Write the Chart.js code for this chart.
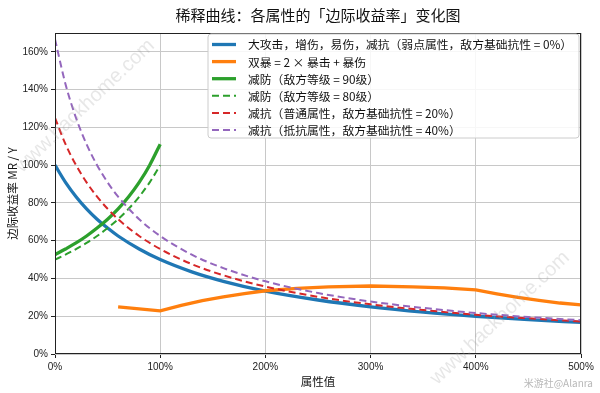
<!DOCTYPE html>
<html>
<head>
<meta charset="utf-8">
<script src="https://cdn.jsdelivr.net/npm/chart.js@4.4.0/dist/chart.umd.min.js"></script>
<style>
  html, body { margin: 0; padding: 0; background: #fff; }
  #wrap { width: 600px; height: 393px; }
</style>
</head>
<body>
<div id="wrap"><canvas id="mrChart" width="600" height="393"></canvas></div>
<script>
// Dữ liệu (đơn vị %)
const decX = [0, 10, 20, 30, 40, 50, 60, 80, 100, 130, 160, 200, 250, 300, 350, 400, 450, 500];
const attackY = [100, 90.9, 83.3, 76.9, 71.4, 66.7, 62.5, 55.6, 50, 43.5, 38.5, 33.3, 28.6, 25, 22.2, 20, 18.2, 16.7];
const resNormalY = [125, 111.1, 100, 90.9, 83.3, 76.9, 71.4, 62.5, 55.6, 47.6, 41.7, 35.7, 30.3, 26.3, 23.3, 20.8, 18.9, 17.2];
const resResistY = [166.7, 142.9, 125, 111.1, 100, 90.9, 83.3, 71.4, 62.5, 52.6, 45.5, 38.5, 32.3, 27.8, 24.4, 21.7, 19.6, 17.9];

const critX = [60, 100, 120, 140, 160, 180, 200, 230, 260, 300, 340, 370, 400, 420, 440, 460, 480, 500];
const critY = [25, 22.8, 25.8, 28.3, 30.3, 32, 33.5, 34.8, 35.6, 36, 35.6, 35, 34, 31.9, 30, 28.4, 27, 26];

const defX = [0, 10, 20, 30, 40, 50, 60, 70, 80, 90, 100];
const def90Y = [52.6, 55.6, 58.8, 62.5, 66.7, 71.4, 76.9, 83.3, 90.9, 100, 111.1];
const def80Y = [50, 52.6, 55.6, 58.8, 62.5, 66.7, 71.4, 76.9, 83.3, 90.9, 100];

const xTicks = [0, 100, 200, 300, 400, 500];
const yTicks = [0, 20, 40, 60, 80, 100, 120, 140, 160];

const labels = [
    '大攻击，增伤，易伤，减抗（弱点属性，敌方基础抗性 = 0%）',
    '双暴 = 2 × 暴击 + 暴伤',
    '减防（敌方等级 = 90级）',
    '减防（敌方等级 = 80级）',
    '减抗（普通属性，敌方基础抗性 = 20%）',
    '减抗（抵抗属性，敌方基础抗性 = 40%）'
];

const CJK = '"Noto Sans CJK SC", sans-serif';
const LAT = '"Liberation Sans", "Noto Sans CJK SC", sans-serif';

function toPoints(xs, ys) {
    return xs.map((x, i) => ({ x: x, y: ys[i] }));
}

function makeSet(idx, xs, ys, color, width, dash, smooth) {
    return {
        label: labels[idx],
        data: toPoints(xs, ys),
        borderColor: color,
        backgroundColor: color,
        borderWidth: width,
        borderDash: dash,
        pointRadius: 0,
        showLine: true,
        fill: false,
        tension: smooth ? 0.4 : 0,
        cubicInterpolationMode: smooth ? 'monotone' : 'default',
        order: 10 - idx
    };
}

const datasets = [
    makeSet(0, decX, attackY, '#1f77b4', 3.3, [], true),
    makeSet(1, critX, critY, '#ff7f0e', 3.3, [], false),
    makeSet(2, defX, def90Y, '#2ca02c', 3.3, [], true),
    makeSet(3, defX, def80Y, '#2ca02c', 2, [7, 4], true),
    makeSet(4, decX, resNormalY, '#d62728', 2, [7, 4], true),
    makeSet(5, decX, resResistY, '#9467bd', 2, [7, 4], true)
];

// Plugin vẽ nền, khung, chú thích, tiêu đề
const decorPlugin = {
    id: 'decor',
    beforeDraw(chart) {
        const ctx = chart.ctx;
        ctx.save();
        ctx.fillStyle = '#fff';
        ctx.fillRect(0, 0, chart.width, chart.height);
        ctx.restore();
    },
    afterDatasetsDraw(chart) {
        const ctx = chart.ctx;
        const a = chart.chartArea;
        ctx.save();
        // khung
        ctx.strokeStyle = '#222';
        ctx.lineWidth = 1;
        ctx.strokeRect(a.left + 0.5, a.top + 0.5, a.right - a.left - 1, a.bottom - a.top - 1);

        // chú thích
        const bx = a.right - 373, by = a.top + 1, bw = 371, bh = 104;
        ctx.fillStyle = 'rgba(255,255,255,0.85)';
        ctx.strokeStyle = '#cccccc';
        ctx.beginPath();
        ctx.roundRect(bx, by, bw, bh, 3);
        ctx.fill();
        ctx.stroke();
        chart.data.datasets.forEach((ds, i) => {
            const y = by + 10.5 + i * 17.1;
            ctx.beginPath();
            ctx.setLineDash(ds.borderDash);
            ctx.lineWidth = ds.borderWidth;
            ctx.strokeStyle = ds.borderColor;
            ctx.moveTo(bx + 4, y);
            ctx.lineTo(bx + 28, y);
            ctx.stroke();
            ctx.setLineDash([]);
            ctx.fillStyle = '#111';
            ctx.font = '11.8px ' + CJK;
            ctx.textBaseline = 'middle';
            ctx.textAlign = 'left';
            ctx.fillText(ds.label, bx + 40, y + 0.5);
        });
        ctx.restore();
    },
    afterDraw(chart) {
        const ctx = chart.ctx;
        const a = chart.chartArea;
        ctx.save();
        ctx.fillStyle = '#111';
        ctx.font = '15px ' + CJK;
        ctx.textAlign = 'center';
        ctx.textBaseline = 'middle';
        ctx.fillText('稀释曲线：各属性的「边际收益率」变化图', (a.left + a.right) / 2, 15);

        // watermark
        ctx.fillStyle = 'rgba(160,160,160,0.25)';
        ctx.font = '20px ' + LAT;
        [[85, 106], [500, 318]].forEach(p => {
            ctx.save();
            ctx.translate(p[0], p[1]);
            ctx.rotate(-0.76);
            ctx.fillText('www.hackhome.com', 0, 0);
            ctx.restore();
        });
        ctx.fillStyle = '#b8b8b8';
        ctx.font = '10px ' + CJK;
        ctx.textAlign = 'right';
        ctx.fillText('米游社@Alanra', 593, 383);
        ctx.restore();
    }
};

const ctx = document.getElementById('mrChart').getContext('2d');
const mrChart = new Chart(ctx, {
    type: 'scatter',
    data: { datasets: datasets },
    options: {
        responsive: false,
        animation: false,
        layout: { padding: { left: 0, right: 19, top: 33, bottom: 0 } },
        plugins: {
            legend: { display: false },
            tooltip: { enabled: false },
            title: { display: false }
        },
        scales: {
            x: {
                type: 'linear',
                min: 0,
                max: 500,
                afterBuildTicks: axis => { axis.ticks = xTicks.map(v => ({ value: v })); },
                afterFit: scale => { scale.height = 39; },
                grid: { color: '#c8c8c8', lineWidth: 1, drawTicks: true, tickLength: 4, tickColor: '#222' },
                border: { display: false },
                ticks: {
                    color: '#222',
                    font: { family: LAT, size: 10 },
                    padding: 3,
                    maxRotation: 0,
                    callback: v => v + '%'
                },
                title: {
                    display: true,
                    text: '属性值',
                    color: '#111',
                    font: { family: CJK, size: 11.5 },
                    padding: { top: 0, bottom: 4 }
                }
            },
            y: {
                type: 'linear',
                min: 0,
                max: 170,
                afterBuildTicks: axis => { axis.ticks = yTicks.map(v => ({ value: v })); },
                afterFit: scale => { scale.width = 55; },
                grid: { color: '#c8c8c8', lineWidth: 1, drawTicks: true, tickLength: 4, tickColor: '#222' },
                border: { display: false },
                ticks: {
                    color: '#222',
                    font: { family: LAT, size: 10 },
                    padding: 3,
                    callback: v => v + '%'
                },
                title: {
                    display: true,
                    text: '边际收益率 MR / Y',
                    color: '#111',
                    font: { family: CJK, size: 11.5 },
                    padding: { top: 6, bottom: 0 }
                }
            }
        }
    },
    plugins: [decorPlugin]
});
</script>
</body>
</html>
